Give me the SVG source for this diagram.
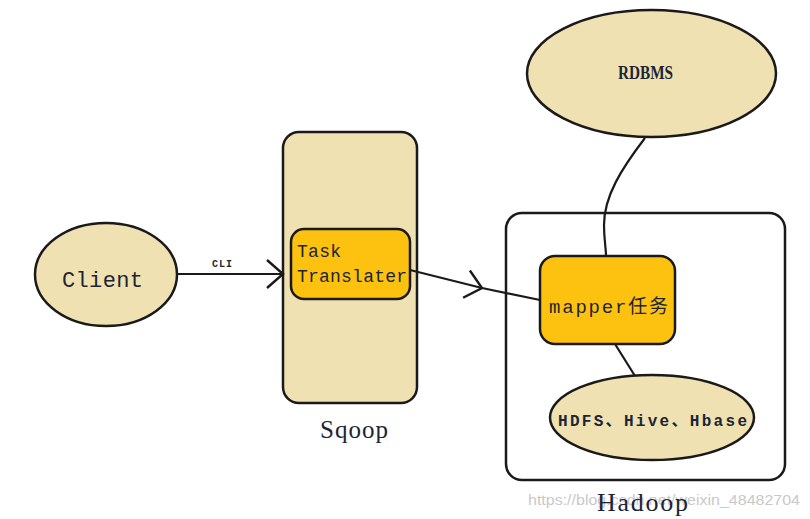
<svg xmlns="http://www.w3.org/2000/svg" width="810" height="519" viewBox="0 0 810 519">
<style>
.shape{stroke:#1a1a1a;stroke-width:2.5}
.tan{fill:#efe1b1}
.gold{fill:#fcc20f}
.white{fill:#ffffff}
.line{fill:none;stroke:#1a1a1a;stroke-width:2.2}
.mono{font-family:"Liberation Mono","Noto Sans CJK SC",monospace;fill:#1c2536}
.serif{font-family:"Liberation Serif","Noto Sans CJK SC",serif;fill:#1c2536}
.wm{font-family:"Liberation Sans",sans-serif;fill:#c9c9c9}
</style>
<defs>
<marker id="openArrow" viewBox="0 0 20 30" refX="18" refY="15" markerWidth="20" markerHeight="30" markerUnits="userSpaceOnUse" orient="auto">
<path d="M2,1 L18,15 L2,29" fill="none" stroke="#1a1a1a" stroke-width="2.4"/>
</marker>
</defs>
<rect width="810" height="519" fill="#ffffff"/>

<g id="sqoop">
<rect class="shape tan" x="283" y="132" width="134" height="271" rx="16"/>
<text class="serif" x="320" y="438" font-size="25" textLength="68" lengthAdjust="spacing">Sqoop</text>
</g>

<g id="hadoop">
<rect class="shape white" x="506" y="213" width="279" height="267" rx="16"/>
<text class="wm" x="528" y="505" font-size="15" textLength="272" lengthAdjust="spacingAndGlyphs">https://blog.csdn.net/weixin_48482704</text>
<text class="serif" x="597" y="511" font-size="26" textLength="91" lengthAdjust="spacing">Hadoop</text>
</g>

<g id="connectors">
<line class="line" x1="177" y1="274" x2="283" y2="274" marker-end="url(#openArrow)"/>
<text class="mono" x="212" y="267" font-size="10" font-weight="bold" textLength="20" lengthAdjust="spacing">CLI</text>
<line class="line" x1="410" y1="270" x2="482" y2="288" marker-end="url(#openArrow)"/>
<line class="line" x1="482" y1="288" x2="540" y2="300"/>
<path class="line" d="M645,138 C622,168 604,196 604,225 C604,240 606,248 606,256"/>
<line class="line" x1="615" y1="344" x2="635" y2="376"/>
</g>

<g id="client">
<ellipse class="shape tan" cx="106" cy="274.5" rx="71" ry="51.5"/>
<text class="mono" x="62" y="287" font-size="22" textLength="81" lengthAdjust="spacing">Client</text>
</g>

<g id="task-translater">
<rect class="shape gold" x="291" y="229" width="119" height="70" rx="13"/>
<text class="mono" x="297" y="257" font-size="18" textLength="44" lengthAdjust="spacing">Task</text>
<text class="mono" x="297" y="282" font-size="18" textLength="110" lengthAdjust="spacing">Translater</text>
</g>

<g id="rdbms">
<ellipse class="shape tan" cx="651.5" cy="73.5" rx="124.5" ry="63.5"/>
<text class="serif" x="618" y="79" font-size="19" font-weight="bold" textLength="55" lengthAdjust="spacingAndGlyphs">RDBMS</text>
</g>

<g id="mapper">
<rect class="shape gold" x="540" y="256" width="135" height="88" rx="15"/>
<text class="mono" x="549" y="313" font-size="19" textLength="119" lengthAdjust="spacing">mapper任务</text>
</g>

<g id="storage">
<ellipse class="shape tan" cx="652" cy="417.5" rx="102" ry="42.5"/>
<text class="mono" x="558" y="426" font-size="16" font-weight="bold" textLength="189" lengthAdjust="spacing">HDFS、Hive、Hbase</text>
</g>
</svg>
